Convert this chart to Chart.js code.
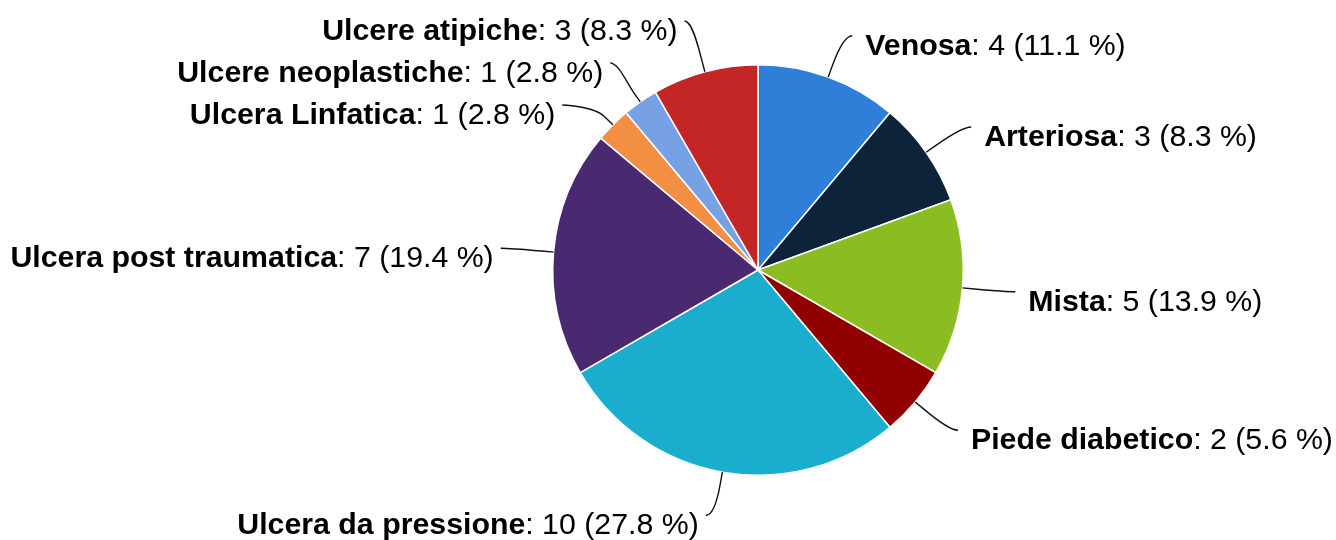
<!DOCTYPE html>
<html>
<head>
<meta charset="utf-8">
<script src="https://cdn.jsdelivr.net/npm/chart.js@4.4.1/dist/chart.umd.min.js"></script>
<style>
  html, body { margin: 0; padding: 0; background: #fff; }
  #wrap { width: 1336px; height: 540px; }
</style>
</head>
<body>
<div id="wrap"><canvas id="ulcerChart" width="1336" height="540"></canvas></div>
<script>
const categories = ['Venosa', 'Arteriosa', 'Mista', 'Piede diabetico', 'Ulcera da pressione',
    'Ulcera post traumatica', 'Ulcera Linfatica', 'Ulcere neoplastiche', 'Ulcere atipiche'];
const counts = [4, 3, 5, 2, 10, 7, 1, 1, 3];
const sliceColors = ['#2f7ed8', '#0d233a', '#8bbc21', '#910000', '#1aadce',
    '#492970', '#f28f43', '#77a1e5', '#c42525'];

const total = counts.reduce((a, b) => a + b, 0);
const FONT_SIZE = 30.3;
const FAMILY = '"Liberation Sans", Arial, Helvetica, sans-serif';
const LABEL_DIST = 44;
const BOX = 42;

// spread labels of one side so they don't overlap (highcharts-like)
function distribute(items) {
    items.sort((a, b) => a.target - b.target);
    let groups = items.map(it => ({ items: [it], target: it.target, pos: it.target }));
    let merged = true;
    while (merged) {
        merged = false;
        for (let i = 0; i < groups.length - 1; i++) {
            const g = groups[i], n = groups[i + 1];
            const gEnd = g.pos + (g.items.length - 1) * BOX;
            if (n.pos - gEnd < BOX) {
                const all = g.items.concat(n.items);
                const mean = all.reduce((s, it) => s + it.target, 0) / all.length;
                groups.splice(i, 2, { items: all, pos: mean - (all.length - 1) * BOX / 2 });
                merged = true;
                break;
            }
        }
    }
    groups.forEach(g => g.items.forEach((it, k) => { it.y = g.pos + k * BOX; }));
}

const pieLabels = {
    id: 'pieLabels',
    afterDraw(chart) {
        const ctx = chart.ctx;
        const arcs = chart.getDatasetMeta(0).data;
        const left = [], right = [];
        arcs.forEach((arc, i) => {
            const mid = (arc.startAngle + arc.endAngle) / 2;
            const r = arc.outerRadius;
            const R = r + LABEL_DIST;
            const item = { i, mid, r, R, cx: arc.x, cy: arc.y,
                target: arc.y + Math.sin(mid) * R, side: Math.cos(mid) >= 0 ? 1 : -1 };
            (item.side > 0 ? right : left).push(item);
        });
        distribute(left);
        distribute(right);

        ctx.save();
        [...left, ...right].forEach(it => {
            const { cx, cy, mid, r, R, side } = it;
            let dy = it.y - cy;
            if (Math.abs(dy) > R * 0.97) dy = it.target - cy;
            const tipX = cx + side * (Math.sqrt(Math.max(R * R - dy * dy, 0)) + 9);
            const tipY = it.y;
            const at = rad => [cx + Math.cos(mid) * rad, cy + Math.sin(mid) * rad];
            const s = at(r), b = at(r + 12), c2 = at(r + 24);

            ctx.beginPath();
            ctx.moveTo(tipX, tipY);
            ctx.bezierCurveTo(tipX - side * 8, tipY, c2[0], c2[1], b[0], b[1]);
            ctx.lineTo(s[0], s[1]);
            ctx.strokeStyle = '#111';
            ctx.lineWidth = 1.4;
            ctx.stroke();

            const name = categories[it.i];
            const rest = ': ' + counts[it.i] + ' (' + (counts[it.i] / total * 100).toFixed(1) + ' %)';
            ctx.fillStyle = '#000';
            ctx.textBaseline = 'alphabetic';
            ctx.textAlign = 'left';
            ctx.font = 'bold ' + FONT_SIZE + 'px ' + FAMILY;
            const wName = ctx.measureText(name).width;
            ctx.font = FONT_SIZE + 'px ' + FAMILY;
            const wRest = ctx.measureText(rest).width;
            const tx = side > 0 ? tipX + 13 : tipX - 7 - wName - wRest;
            const ty = tipY + 19;
            ctx.font = 'bold ' + FONT_SIZE + 'px ' + FAMILY;
            ctx.fillText(name, tx, ty);
            ctx.font = FONT_SIZE + 'px ' + FAMILY;
            ctx.fillText(rest, tx + wName, ty);
        });
        ctx.restore();
    }
};

new Chart(document.getElementById('ulcerChart'), {
    type: 'pie',
    data: {
        labels: categories,
        datasets: [{
            data: counts,
            backgroundColor: sliceColors,
            borderColor: '#ffffff',
            borderWidth: 1.5
        }]
    },
    options: {
        responsive: false,
        animation: false,
        layout: { padding: { left: 552, right: 372, top: 64, bottom: 64 } },
        plugins: { legend: { display: false }, tooltip: { enabled: false } }
    },
    plugins: [pieLabels]
});
</script>
</body>
</html>
